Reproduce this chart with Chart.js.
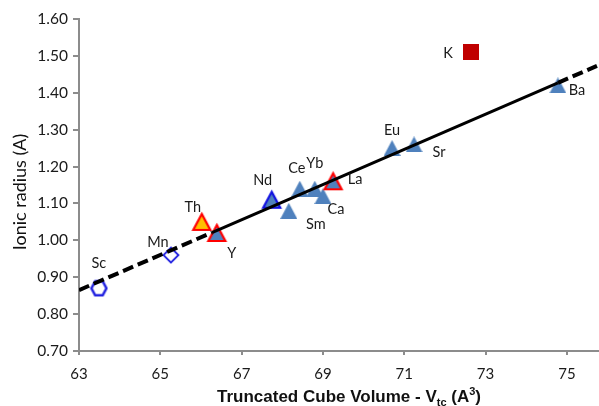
<!DOCTYPE html>
<html>
<head>
<meta charset="utf-8">
<script src="https://cdn.jsdelivr.net/npm/chart.js@4.4.0/dist/chart.umd.min.js"></script>
<style>
  html, body { margin: 0; padding: 0; background: #fff; overflow: hidden; }
  #wrap { position: relative; width: 599px; height: 406px; }
</style>
</head>
<body>
<div id="wrap"><canvas id="c" width="599" height="406"></canvas></div>
<script>
// Cations, their truncated cube volume (A^3) and ionic radius (A)
const elements = ['Sc', 'Mn', 'Th', 'Y', 'Nd', 'Ce', 'Yb', 'Sm', 'Ca', 'La', 'Eu', 'Sr', 'Ba', 'K'];
const volume   = [63.49, 65.26, 66.02, 66.39, 67.74, 68.43, 68.80, 68.16, 69.00, 69.25, 70.70, 71.24, 74.78, 72.64];
const radius   = [0.87, 0.96, 1.05, 1.02, 1.11, 1.14, 1.14, 1.08, 1.12, 1.16, 1.25, 1.26, 1.42, 1.51];

// Linear trend: dashed extrapolation, solid fitted range, dashed extrapolation
const trendVolume = [63.0, 66.27, 74.78, 75.74];
const trendRadius = [0.865, 1.021, 1.427, 1.473];

// Axis ticks
const xTicks = [63, 65, 67, 69, 71, 73, 75];
const yTicks = [0.70, 0.80, 0.90, 1.00, 1.10, 1.20, 1.30, 1.40, 1.50, 1.60];

// Marker look per cation
const markerKind = {
  Sc: 'hexagon', Mn: 'diamond', Th: 'triOrange', Y: 'triRed', Nd: 'triBlueEdge',
  Ce: 'tri', Yb: 'tri', Sm: 'tri', Ca: 'tri', La: 'triRed', Eu: 'tri', Sr: 'tri', Ba: 'tri', K: 'square'
};

// Label placement relative to its marker (px)
const labelOffset = {
  Sc: [0, -25], Mn: [-13, -13], Th: [-9, -15], Y: [15, 20], Nd: [-9, -19],
  Ce: [-3, -20], Yb: [0, -25], Sm: [27, 14], Ca: [13, 13], La: [22, -2],
  Eu: [0, -18], Sr: [25, 8], Ba: [19, 5], K: [-23, 1]
};

const BLUE = '#4f81bd';

function makeCanvas(w, h) {
  const c = document.createElement('canvas');
  c.width = w; c.height = h;
  return c;
}

function triangle(fill, stroke, lw) {
  const pad = stroke ? Math.ceil(lw / 2) + 1 : 0;
  const w = 17, h = 16;
  const c = makeCanvas(w + 2 * pad, h + 2 * pad);
  const g = c.getContext('2d');
  g.beginPath();
  g.moveTo(pad + w / 2, pad);
  g.lineTo(pad + w, pad + h);
  g.lineTo(pad, pad + h);
  g.closePath();
  g.fillStyle = fill;
  g.fill();
  if (stroke) {
    g.lineWidth = lw;
    g.lineJoin = 'miter';
    g.strokeStyle = stroke;
    g.stroke();
  }
  return c;
}

function hexagon() {
  const c = makeCanvas(19, 18);
  const g = c.getContext('2d');
  const cx = 9.5, cy = 9, rx = 7.5, ry = 7;
  g.beginPath();
  g.moveTo(cx - rx, cy);
  g.lineTo(cx - rx / 2, cy - ry);
  g.lineTo(cx + rx / 2, cy - ry);
  g.lineTo(cx + rx, cy);
  g.lineTo(cx + rx / 2, cy + ry);
  g.lineTo(cx - rx / 2, cy + ry);
  g.closePath();
  g.fillStyle = '#fff';
  g.fill();
  g.lineWidth = 2.5;
  g.strokeStyle = '#2121e0';
  g.stroke();
  return c;
}

function diamond() {
  const c = makeCanvas(18, 18);
  const g = c.getContext('2d');
  const cx = 9, cy = 9, r = 7.5;
  g.beginPath();
  g.moveTo(cx, cy - r);
  g.lineTo(cx + r, cy);
  g.lineTo(cx, cy + r);
  g.lineTo(cx - r, cy);
  g.closePath();
  g.fillStyle = '#fff';
  g.fill();
  g.lineWidth = 1.8;
  g.strokeStyle = '#2121e0';
  g.stroke();
  return c;
}

function square() {
  const c = makeCanvas(16, 16);
  const g = c.getContext('2d');
  g.fillStyle = '#c00000';
  g.fillRect(0, 0, 16, 16);
  return c;
}

const markers = {
  tri: triangle(BLUE, null, 0),
  triRed: triangle(BLUE, '#ff0000', 2.2),
  triOrange: triangle('#ffc000', '#ff0000', 2.2),
  triBlueEdge: triangle(BLUE, '#1010e0', 2.2),
  hexagon: hexagon(),
  diamond: diamond(),
  square: square()
};

const points = elements.map((el, i) => ({ x: volume[i], y: radius[i] }));
const trend = trendVolume.map((v, i) => ({ x: v, y: trendRadius[i] }));

const pointLabels = {
  id: 'pointLabels',
  afterDatasetsDraw(chart) {
    const ctx = chart.ctx;
    const meta = chart.getDatasetMeta(1);
    ctx.save();
    ctx.font = '14.5px Lato';
    ctx.fillStyle = '#1a1a1a';
    ctx.textAlign = 'center';
    ctx.textBaseline = 'middle';
    meta.data.forEach((pt, i) => {
      const name = elements[i];
      const [dx, dy] = labelOffset[name];
      ctx.fillText(name, pt.x + dx, pt.y + dy);
    });
    ctx.restore();
  }
};

const axisTitles = {
  id: 'axisTitles',
  afterDraw(chart) {
    const ctx = chart.ctx;
    const area = chart.chartArea;
    ctx.save();
    // vertical title
    ctx.fillStyle = '#111';
    ctx.font = '18px Lato';
    ctx.textAlign = 'center';
    ctx.textBaseline = 'middle';
    ctx.translate(20, area.top + (area.bottom - area.top) / 2 + 7);
    ctx.rotate(-Math.PI / 2);
    ctx.fillText('Ionic radius (A)', 0, 0);
    ctx.restore();

    // horizontal title with subscript and superscript
    ctx.save();
    ctx.fillStyle = '#111';
    ctx.textBaseline = 'alphabetic';
    ctx.textAlign = 'left';
    const big = 'bold 17px "Liberation Sans"';
    const small = 'bold 11px "Liberation Sans"';
    const parts = [
      { t: 'Truncated Cube Volume - V', f: big, dy: 0 },
      { t: 'tc', f: small, dy: 4 },
      { t: ' (A', f: big, dy: 0 },
      { t: '3', f: small, dy: -7 },
      { t: ')', f: big, dy: 0 }
    ];
    let total = 0;
    parts.forEach(p => { ctx.font = p.f; p.w = ctx.measureText(p.t).width; total += p.w; });
    let x = 349 - total / 2;
    const base = 402;
    parts.forEach(p => { ctx.font = p.f; ctx.fillText(p.t, x, base + p.dy); x += p.w; });
    ctx.restore();
  }
};

Chart.defaults.font.family = 'Lato';
Chart.defaults.color = '#1a1a1a';

new Chart(document.getElementById('c'), {
  type: 'scatter',
  data: {
    datasets: [
      {
        label: 'trend',
        type: 'line',
        data: trend,
        order: 0,
        borderColor: '#000',
        borderWidth: 3,
        pointRadius: 0,
        fill: false,
        tension: 0,
        segment: {
          borderDash: ctx => (ctx.p0DataIndex === 1 ? [] : [11, 5]),
          borderWidth: ctx => (ctx.p0DataIndex === 1 ? 3 : 4)
        }
      },
      {
        label: 'cations',
        data: points,
        order: 1,
        pointRadius: 8,
        pointStyle: elements.map(el => markers[markerKind[el]])
      }
    ]
  },
  options: {
    responsive: false,
    animation: false,
    devicePixelRatio: 1,
    events: [],
    layout: { autoPadding: false, padding: { top: 19, left: 0, right: 0, bottom: 0 } },
    plugins: { legend: { display: false }, tooltip: { enabled: false } },
    scales: {
      x: {
        type: 'linear',
        min: 63,
        max: 75.79,
        afterBuildTicks: s => { s.ticks = xTicks.map(v => ({ value: v })); },
        afterFit: s => { s.height = 55; },
        ticks: {
          font: { size: 15 },
          color: '#1a1a1a',
          padding: 10,
          maxRotation: 0,
          callback: v => String(v)
        },
        grid: { drawOnChartArea: false, drawTicks: true, tickLength: 4, color: '#8c8c8c', lineWidth: 2 },
        border: { display: true, color: '#8c8c8c', width: 2 }
      },
      y: {
        type: 'linear',
        min: 0.7,
        max: 1.6,
        afterBuildTicks: s => { s.ticks = yTicks.map(v => ({ value: v })); },
        afterFit: s => { s.width = 79; },
        ticks: {
          font: { size: 15.5 },
          color: '#1a1a1a',
          padding: 5,
          callback: v => Number(v).toFixed(2)
        },
        grid: { drawOnChartArea: false, drawTicks: true, tickLength: 6, color: '#8c8c8c', lineWidth: 2 },
        border: { display: true, color: '#8c8c8c', width: 2 }
      }
    }
  },
  plugins: [pointLabels, axisTitles]
});
</script>
</body>
</html>
